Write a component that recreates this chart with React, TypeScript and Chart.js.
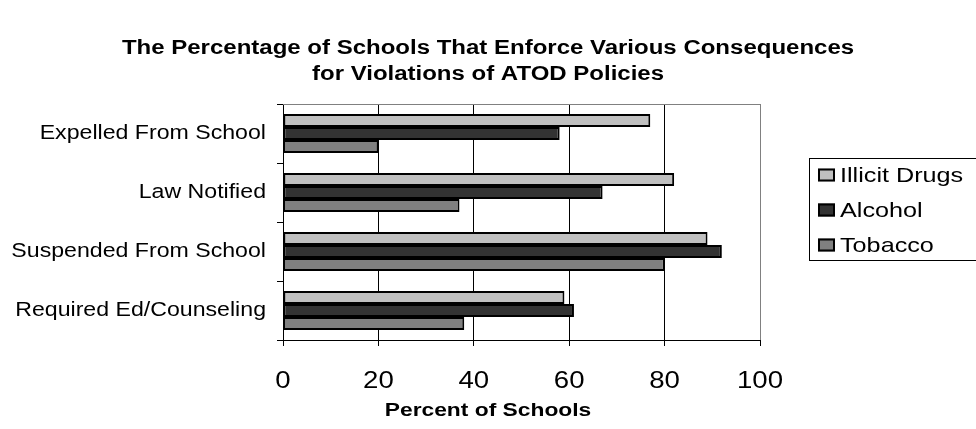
import React, { useEffect, useRef } from 'react';
import { Chart, registerables } from 'chart.js';

Chart.register(...registerables);

const categories = ['Expelled From School', 'Law Notified', 'Suspended From School', 'Required Ed/Counseling'];
const seriesNames = ['Illicit Drugs', 'Alcohol', 'Tobacco'];
const illicitDrugs = [77, 82, 89, 59];
const alcohol = [58, 67, 92, 61];
const tobacco = [20, 37, 80, 38];
const seriesColors = ['#C0C0C0', '#333333', '#808080'];
const xTicks = [0, 20, 40, 60, 80, 100];
const titleLines = [
  'The Percentage of Schools That Enforce Various Consequences',
  'for Violations of ATOD Policies',
];
const axisTitle = 'Percent of Schools';

const FONT = '"Liberation Sans", Arial, Helvetica, sans-serif';
const SX = 1.2; // horizontal stretch of the original rendering's text

function stretchText(ctx: any) {
  if (ctx.__stretched) return;
  ctx.__stretched = true;
  const fill = ctx.fillText.bind(ctx);
  const measure = ctx.measureText.bind(ctx);
  ctx.fillText = function (text: string, x: number, y: number, maxWidth?: number) {
    ctx.save();
    ctx.translate(x, y);
    ctx.scale(SX, 1);
    if (maxWidth !== undefined && maxWidth !== null) fill(text, 0, 0, maxWidth / SX);
    else fill(text, 0, 0);
    ctx.restore();
  };
  ctx.measureText = function (text: string) {
    const m = measure(text);
    return {
      width: m.width * SX,
      actualBoundingBoxLeft: m.actualBoundingBoxLeft * SX,
      actualBoundingBoxRight: m.actualBoundingBoxRight * SX,
      actualBoundingBoxAscent: m.actualBoundingBoxAscent,
      actualBoundingBoxDescent: m.actualBoundingBoxDescent,
      fontBoundingBoxAscent: m.fontBoundingBoxAscent,
      fontBoundingBoxDescent: m.fontBoundingBoxDescent,
    };
  };
}

const frameAndLegendPlugin = {
  id: 'frameAndLegend',
  afterDraw(chart: any) {
    const ctx = chart.ctx as CanvasRenderingContext2D;
    const area = chart.chartArea;
    ctx.save();
    // gray top border of the plot area
    ctx.strokeStyle = '#808080';
    ctx.lineWidth = 1;
    ctx.beginPath();
    ctx.moveTo(Math.round(area.left), Math.round(area.top) + 0.5);
    ctx.lineTo(Math.round(area.right) + 1, Math.round(area.top) + 0.5);
    ctx.stroke();

    // x axis title, centred on the whole figure
    ctx.fillStyle = '#000';
    ctx.font = `bold 19px ${FONT}`;
    ctx.textAlign = 'center';
    ctx.textBaseline = 'middle';
    ctx.fillText(axisTitle, chart.width / 2, 411);

    // legend
    ctx.strokeStyle = '#000';
    ctx.lineWidth = 1;
    ctx.strokeRect(809.5, 158.5, 190, 102);
    const rows = [175, 210, 245];
    chart.data.datasets.forEach((ds: any, i: number) => {
      const y = rows[i];
      ctx.fillStyle = ds.backgroundColor;
      ctx.fillRect(818, y - 6.5, 17, 13);
      ctx.strokeStyle = '#000';
      ctx.lineWidth = 2;
      ctx.strokeRect(819, y - 5.5, 15, 11);
      ctx.fillStyle = '#000';
      ctx.font = `21px ${FONT}`;
      ctx.textBaseline = 'middle';
      ctx.textAlign = 'left';
      ctx.fillText(ds.label, 840, y + 1);
    });
    ctx.restore();
  },
};

export default function App() {
  const canvasRef = useRef<HTMLCanvasElement | null>(null);

  useEffect(() => {
    const canvas = canvasRef.current;
    if (!canvas) return;
    stretchText(canvas.getContext('2d'));
    const seriesValues = [illicitDrugs, alcohol, tobacco];
    const chart = new Chart(canvas, {
      type: 'bar',
      data: {
        labels: categories,
        datasets: seriesNames.map((name, i) => ({
          label: name,
          data: seriesValues[i],
          backgroundColor: seriesColors[i],
          borderColor: '#000',
          borderWidth: 2,
          borderSkipped: false,
          categoryPercentage: 0.66,
          barPercentage: 1,
          xAxisID: 'x',
          yAxisID: 'y',
        })),
      },
      options: {
        indexAxis: 'y',
        animation: false,
        responsive: true,
        maintainAspectRatio: false,
        layout: { padding: 0 },
        plugins: {
          legend: { display: false },
          tooltip: { enabled: false },
          title: {
            display: true,
            text: titleLines,
            color: '#000',
            font: { family: FONT, size: 20, weight: 'bold', lineHeight: 26 / 20 },
            padding: { top: 35, bottom: 17 },
          },
        },
        scales: {
          x: {
            type: 'linear',
            min: 0,
            max: 100,
            position: 'bottom',
            afterBuildTicks: (s: any) => { s.ticks = xTicks.map((v) => ({ value: v })); },
            afterFit: (s: any) => { s.height = 89; },
            ticks: {
              color: '#000',
              font: { family: FONT, size: 23 },
              padding: 22,
              maxRotation: 0,
              autoSkip: false,
            },
            grid: {
              color: (c: any) => (c.index === xTicks.length - 1 ? '#808080' : '#000'),
              lineWidth: 1,
              drawTicks: true,
              tickLength: 6,
              tickColor: '#000',
            },
            border: { display: true, color: '#000', width: 1 },
            title: { display: false, text: axisTitle },
          },
          y: {
            type: 'category',
            position: 'left',
            afterFit: (s: any) => { s.width = 283; },
            ticks: {
              color: '#000',
              font: { family: FONT, size: 19.3 },
              padding: 11,
              autoSkip: false,
            },
            grid: {
              drawOnChartArea: false,
              drawTicks: true,
              tickLength: 6,
              color: '#000',
              tickColor: '#000',
              offset: true,
            },
            border: { display: true, color: '#000', width: 1 },
          },
          legendSpace: {
            type: 'category',
            position: 'right',
            afterFit: (s: any) => { s.width = 216; },
            ticks: { display: false },
            grid: { display: false, drawTicks: false },
            border: { display: false },
          },
        },
      } as any,
      plugins: [frameAndLegendPlugin],
    });
    return () => chart.destroy();
  }, []);

  return (
    <div style={{ position: 'absolute', left: 0, top: 0, width: 976, height: 429, background: '#fff' }}>
      <canvas ref={canvasRef} />
    </div>
  );
}
